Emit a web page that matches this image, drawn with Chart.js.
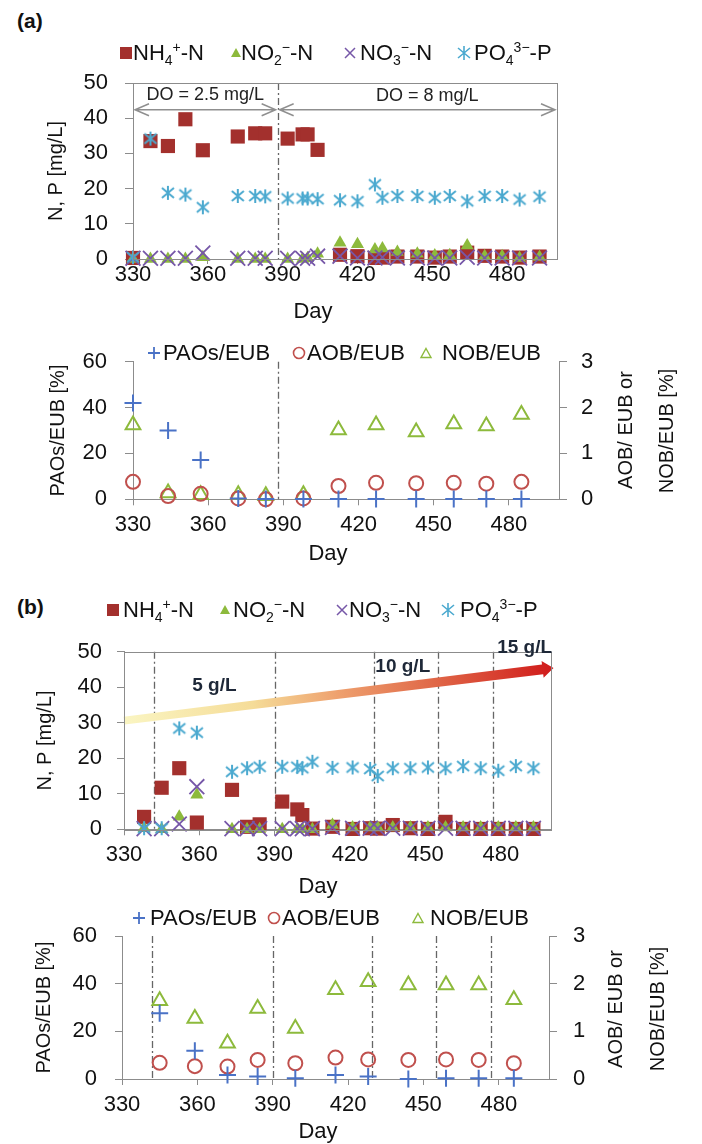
<!DOCTYPE html>
<html>
<head>
<meta charset="utf-8">
<script src="https://cdn.jsdelivr.net/npm/chart.js@4.4.1/dist/chart.umd.min.js"></script>
<style>
  body { margin: 0; background: #fff; font-family: "Liberation Sans", Arial, sans-serif; }
  #page { position: relative; width: 702px; height: 1144px; overflow: hidden; }
  canvas { position: absolute; left: 0; }
  .tag { position: absolute; left: 17px; font-weight: bold; font-size: 21px; line-height: 21px; color: #111; }
  .lg { position: absolute; font-size: 22px; line-height: 22px; color: #111; white-space: nowrap; }
  .lg sub, .lg sup { font-size: 14px; line-height: 0; }
  .mk { position: absolute; }
</style>
</head>
<body>
<div id="page">
  <div class="tag" style="top:10px">(a)</div>
  <div class="tag" style="top:596px">(b)</div>
  <canvas id="a1" width="702" height="275" style="top:55px"></canvas>
  <canvas id="a2" width="702" height="236" style="top:330px"></canvas>
  <canvas id="b1" width="702" height="280" style="top:620px"></canvas>
  <canvas id="b2" width="702" height="244" style="top:900px"></canvas>
</div>
<script>
// ---- (a) DO phases: ions in the effluent ----
const aDays = [330, 337, 344, 351, 358, 372, 379, 383, 392, 398, 400, 404, 413, 420, 427, 430, 436, 444, 451, 457, 464, 471, 478, 485, 493];
const aNH4 = [0.3, 33.5, 32.1, 39.7, 30.9, 34.8, 35.7, 35.7, 34.2, 35.4, 35.4, 31.0, 1.2, 0.8, 0.3, 0.4, 0.7, 0.7, 0.4, 0.7, 1.8, 0.9, 0.7, 0.4, 0.7];
const aNO2 = [0, 0, 0, 0, 0.5, 0, 0, 0, 0, 0, 0.2, 1.5, 4.6, 4.2, 2.7, 3.0, 2.0, 1.5, 1.0, 1.1, 3.8, 0.8, 0.8, 0.3, 0.6];
const aNO3 = [0.2, 0.2, 0.2, 0.2, 1.7, 0.2, 0.2, 0.2, 0.2, 0.2, 0.2, 0.8, 0.8, 0.3, 0.3, 0.5, 0.3, 0.3, 0.3, 0.3, 0.5, 0.3, 0.3, 0.3, 0.3];
const aPO4 = [0.5, 34.2, 18.8, 18.3, 14.7, 17.9, 17.9, 17.8, 17.2, 17.2, 17.2, 17.0, 16.7, 16.4, 21.2, 17.4, 17.9, 17.9, 17.4, 17.9, 16.4, 17.9, 17.9, 16.9, 17.7];

// ---- (a) FISH ratios ----
const aFishDays = [330, 344, 357, 372, 383, 398, 412, 427, 443, 458, 471, 485];
const aPAO = [42, 30, 17.1, 0.4, 0.1, 0.1, 0.1, 0.1, 0.1, 0.1, 0.1, 0.1];
const aAOB = [0.38, 0.07, 0.12, 0.02, 0.0, 0.02, 0.29, 0.36, 0.35, 0.36, 0.34, 0.38];
const aNOB = [1.62, 0.14, 0.10, 0.10, 0.08, 0.10, 1.51, 1.62, 1.47, 1.64, 1.60, 1.85];

// ---- (b) salt steps: ions ----
const bDays = [338, 345, 352, 359, 373, 379, 384, 393, 399, 401, 405, 413, 421, 428, 431, 437, 444, 451, 458, 465, 472, 479, 486, 493];
const bNH4 = [3.5, 11.7, 17.2, 1.9, 11.1, 0.7, 1.4, 7.8, 5.6, 4.0, 0.2, 0.7, 0.1, 0.3, 0.2, 1.2, 0.3, 0.1, 2.1, 0.1, 0.1, 0.1, 0.1, 0.1];
const bNO2 = [0.3, 0, 3.5, 9.7, 0, 0, 0, 0, 0, 0, 0, 1.2, 0.5, 0.5, 0.5, 0.5, 0.5, 0.5, 0.5, 0.5, 0.5, 0.5, 0.5, 0.5];
const bNO3 = [0.2, 0.2, 1.5, 12.0, 0.2, 0.2, 0.2, 0.2, 0.2, 0.2, 0.2, 0.5, 0.3, 0.3, 0.3, 0.3, 0.3, 0.3, 0.3, 0.3, 0.3, 0.3, 0.3, 0.3];
const bPO4 = [0.3, 0.3, 28.4, 27.2, 16.2, 17.2, 17.6, 17.6, 17.6, 17.2, 19.0, 17.3, 17.4, 17.0, 15.0, 17.2, 17.2, 17.4, 17.2, 17.8, 17.2, 16.5, 17.8, 17.2];

// ---- (b) FISH ratios ----
const bFishDays = [345, 359, 372, 384, 399, 415, 428, 444, 459, 472, 486];
const bPAO = [27.6, 11.9, 1.7, 1.0, 0.3, 1.7, 1.0, 0.0, 0.3, 0.3, 0.3];
const bAOB = [0.34, 0.27, 0.26, 0.40, 0.33, 0.45, 0.41, 0.40, 0.41, 0.40, 0.33];
const bNOB = [1.64, 1.27, 0.75, 1.48, 1.06, 1.87, 2.04, 1.97, 1.97, 1.97, 1.66];

// phase boundaries and annotations (data units)
const aPhaseLines = [388];
const bPhaseLines = [342, 390, 429.5, 455, 477];
const doLabels = ['DO = 2.5 mg/L', 'DO = 8 mg/L'];
const doRanges = [[330, 388], [388, 500]];
const doLevel = 42.4;
const doLabelAt = [[359, 46.5], [448, 46.3]];
const saltLabels = ['5 g/L', '10 g/L', '15 g/L'];
const saltLabelAt = [[366, 40.5], [441, 45.7], [489.5, 51]];
const saltArrow = [[330, 30.6], [501, 45.4]];

const ionNames = ['NH<sub>4</sub><sup>+</sup>-N', 'NO<sub>2</sub><sup>−</sup>-N', 'NO<sub>3</sub><sup>−</sup>-N', 'PO<sub>4</sub><sup>3−</sup>-P'];
const fishNames = ['PAOs/EUB', 'AOB/EUB', 'NOB/EUB'];

const RED = '#A3302D', GREEN = '#8DBA3C', PURPLE = '#7657A8', AQUA = '#4BA9CF';
const BLUE = '#4A72C6', ROSE = '#C0504D';
const AXIS = '#8c8c8c';

Chart.defaults.font.family = '"Liberation Sans", Arial, sans-serif';
Chart.defaults.color = '#111';

// six-spoke asterisk like the spreadsheet "star" marker
function starMarker(color) {
  const c = document.createElement('canvas');
  c.width = c.height = 16;
  const g = c.getContext('2d');
  g.strokeStyle = color; g.lineWidth = 2;
  g.beginPath();
  g.moveTo(8, 1); g.lineTo(8, 15);
  g.moveTo(2, 3); g.lineTo(14, 13);
  g.moveTo(14, 3); g.lineTo(2, 13);
  g.stroke();
  return c;
}
const STAR = starMarker(AQUA);

const pts = (days, v) => days.map((d, i) => ({x: d, y: v[i]}));

function ionSets(days, nh4, no2, no3, po4) {
  return [
    {label: 'NH₄⁺-N', data: pts(days, nh4), pointStyle: 'rect', pointRadius: 10, backgroundColor: RED, borderColor: RED, borderWidth: 0, order: 4, clip: false},
    {label: 'NO₂⁻-N', data: pts(days, no2), pointStyle: 'triangle', pointRadius: 7.5, backgroundColor: GREEN, borderColor: GREEN, borderWidth: 0, order: 3, clip: false},
    {label: 'NO₃⁻-N', data: pts(days, no3), pointStyle: 'crossRot', pointRadius: 10.5, borderColor: PURPLE, borderWidth: 1.8, order: 2, clip: false},
    {label: 'PO₄³⁻-P', data: pts(days, po4), pointStyle: STAR, pointRadius: 8, order: 1, clip: false}
  ];
}

function fishSets(days, pao, aob, nob) {
  return [
    {label: 'PAOs/EUB', data: pts(days, pao), yAxisID: 'y', pointStyle: 'cross', pointRadius: 8.5, borderColor: BLUE, borderWidth: 2, clip: false},
    {label: 'AOB/EUB', data: pts(days, aob), yAxisID: 'y2', pointStyle: 'circle', pointRadius: 7, backgroundColor: 'rgba(0,0,0,0)', borderColor: ROSE, borderWidth: 2, clip: false},
    {label: 'NOB/EUB', data: pts(days, nob), yAxisID: 'y2', pointStyle: 'triangle', pointRadius: 8.5, backgroundColor: 'rgba(0,0,0,0)', borderColor: GREEN, borderWidth: 2, clip: false}
  ];
}

function xAxis(o) {
  return {
    type: 'linear', position: 'bottom', min: 330, max: 500,
    ticks: {stepSize: 30, includeBounds: false, autoSkip: false, maxRotation: 0, padding: o.pad, font: {size: 22, lineHeight: 1}},
    grid: {drawOnChartArea: false, tickLength: o.tl, color: AXIS},
    border: {color: AXIS, width: 1},
    afterFit: s => { s.height = o.h; }
  };
}

function yAxis(o) {
  return {
    type: 'linear', position: o.pos, min: 0, max: o.max,
    ticks: {stepSize: o.step, padding: o.pad, font: {size: 22, lineHeight: 1}},
    grid: {drawOnChartArea: false, tickLength: o.tl, color: AXIS},
    border: {color: AXIS, width: 1},
    title: o.title ? {display: true, text: o.title, font: {size: 20, lineHeight: 1}, padding: {top: o.tpad, bottom: 0}} : {display: false},
    afterFit: s => { s.width = o.w; }
  };
}

// dash-dot phase lines, DO arrows, salt arrow, free texts
const extras = {
  id: 'extras',
  beforeDatasetsDraw(chart, args, o) {
    const {ctx, chartArea: a} = chart;
    const x = chart.scales.x, y = chart.scales.y;
    ctx.save();
    ctx.strokeStyle = '#666'; ctx.lineWidth = 1.3; ctx.setLineDash([7, 3, 2, 3]);
    (o.vlines || []).forEach(d => {
      const px = Math.round(x.getPixelForValue(d)) + 0.5;
      ctx.beginPath(); ctx.moveTo(px, a.top); ctx.lineTo(px, a.bottom); ctx.stroke();
    });
    ctx.setLineDash([]);
    if (o.spans) {
      ctx.strokeStyle = '#8f8f8f'; ctx.lineWidth = 1.5;
      const py = y.getPixelForValue(o.spans.level);
      o.spans.ranges.forEach(([d0, d1]) => {
        const p0 = x.getPixelForValue(d0) + 2, p1 = x.getPixelForValue(d1) - 2;
        ctx.beginPath();
        ctx.moveTo(p0, py); ctx.lineTo(p1, py);
        ctx.moveTo(p0 + 14, py - 6); ctx.lineTo(p0, py); ctx.lineTo(p0 + 14, py + 6);
        ctx.moveTo(p1 - 14, py - 6); ctx.lineTo(p1, py); ctx.lineTo(p1 - 14, py + 6);
        ctx.stroke();
      });
    }
    if (o.arrow) {
      const [s, e] = o.arrow;
      const x0 = x.getPixelForValue(s[0]), y0 = y.getPixelForValue(s[1]);
      const x1 = x.getPixelForValue(e[0]), y1 = y.getPixelForValue(e[1]);
      const len = Math.hypot(x1 - x0, y1 - y0), ux = (x1 - x0) / len, uy = (y1 - y0) / len;
      const nx = -uy, ny = ux;
      const hl = 11, hw = 8.5, w0 = 4, w1 = 5;
      const bx = x1 - ux * hl, by = y1 - uy * hl;
      const g = ctx.createLinearGradient(x0, y0, x1, y1);
      g.addColorStop(0, '#FAF5C2');
      g.addColorStop(0.3, '#F5DC98');
      g.addColorStop(0.5, '#EEA06E');
      g.addColorStop(0.72, '#E06848');
      g.addColorStop(1, '#D01A1A');
      ctx.fillStyle = g;
      ctx.beginPath();
      ctx.moveTo(x0 + nx * w0, y0 + ny * w0);
      ctx.lineTo(bx + nx * w1, by + ny * w1);
      ctx.lineTo(bx + nx * hw, by + ny * hw);
      ctx.lineTo(x1, y1);
      ctx.lineTo(bx - nx * hw, by - ny * hw);
      ctx.lineTo(bx - nx * w1, by - ny * w1);
      ctx.lineTo(x0 - nx * w0, y0 - ny * w0);
      ctx.closePath();
      ctx.fill();
    }
    ctx.restore();
  },
  afterDraw(chart, args, o) {
    const {ctx, chartArea: a} = chart;
    ctx.save();
    if (o.box) {
      ctx.strokeStyle = AXIS; ctx.lineWidth = 1;
      ctx.strokeRect(Math.round(a.left) + 0.5, Math.round(a.top) + 0.5, Math.round(a.width), Math.round(a.height));
    }
    ctx.textAlign = 'center'; ctx.textBaseline = 'middle';
    (o.labels || []).forEach(t => {
      ctx.font = t.font; ctx.fillStyle = t.color || '#111';
      ctx.fillText(t.text, chart.scales.x.getPixelForValue(t.at[0]), chart.scales.y.getPixelForValue(t.at[1]));
    });
    (o.texts || []).forEach(t => {
      ctx.save();
      ctx.translate(t.x, t.y); ctx.rotate(t.rot || 0);
      ctx.font = t.font; ctx.fillStyle = '#111';
      ctx.fillText(t.text, 0, 0);
      ctx.restore();
    });
    ctx.restore();
  }
};
Chart.register(extras);

const F22 = '22px "Liberation Sans", Arial, sans-serif';
const F20 = '20px "Liberation Sans", Arial, sans-serif';
const F18 = '18px "Liberation Sans", Arial, sans-serif';
const F19B = 'bold 19px "Liberation Sans", Arial, sans-serif';

function base(padTop, padRight) {
  return {
    responsive: false, animation: false, events: [], devicePixelRatio: 1,
    layout: {padding: {top: padTop, right: padRight, left: 0, bottom: 0}}
  };
}

new Chart(document.getElementById('a1'), {
  type: 'scatter',
  data: {datasets: ionSets(aDays, aNH4, aNO2, aNO3, aPO4)},
  options: Object.assign(base(28, 145), {
    scales: {
      x: xAxis({h: 71, tl: 5, pad: 0}),
      y: yAxis({pos: 'left', max: 50, step: 10, w: 133, tl: 8, pad: 17, title: 'N, P [mg/L]', tpad: 46.7})
    },
    plugins: {
      legend: {display: false}, tooltip: {enabled: false},
      extras: {
        box: true, vlines: aPhaseLines,
        spans: {ranges: doRanges, level: doLevel},
        labels: doLabels.map((t, i) => ({text: t, at: doLabelAt[i], font: F18, color: '#222'})),
        texts: [{text: 'Day', x: 313, y: 256.7, font: F22}]
      }
    }
  })
});

new Chart(document.getElementById('a2'), {
  type: 'scatter',
  data: {datasets: fishSets(aFishDays, aPAO, aAOB, aNOB)},
  options: Object.assign(base(31.7, 63), {
    scales: {
      x: xAxis({h: 66.7, tl: 6, pad: 8.7}),
      y: yAxis({pos: 'left', max: 60, step: 20, w: 133, tl: 8, pad: 18, title: 'PAOs/EUB [%]', tpad: 48}),
      y2: yAxis({pos: 'right', max: 3, step: 1, w: 80, tl: 8, pad: 14})
    },
    plugins: {
      legend: {display: false}, tooltip: {enabled: false},
      extras: {
        vlines: aPhaseLines,
        texts: [
          {text: 'Day', x: 328, y: 224, font: F22},
          {text: 'AOB/ EUB or', x: 626.7, y: 100, rot: -Math.PI / 2, font: F20},
          {text: 'NOB/EUB [%]', x: 667, y: 101, rot: -Math.PI / 2, font: F20}
        ]
      }
    }
  })
});

new Chart(document.getElementById('b1'), {
  type: 'scatter',
  data: {datasets: ionSets(bDays, bNH4, bNO2, bNO3, bPO4)},
  options: Object.assign(base(31.7, 151), {
    scales: {
      x: xAxis({h: 70.7, tl: 6, pad: 8.7}),
      y: yAxis({pos: 'left', max: 50, step: 10, w: 124, tl: 7, pad: 15, title: 'N, P [mg/L]', tpad: 35})
    },
    plugins: {
      legend: {display: false}, tooltip: {enabled: false},
      extras: {
        box: true, vlines: bPhaseLines, arrow: saltArrow,
        labels: saltLabels.map((t, i) => ({text: t, at: saltLabelAt[i], font: F19B, color: '#1E2838'})),
        texts: [{text: 'Day', x: 318, y: 267, font: F22}]
      }
    }
  })
});

new Chart(document.getElementById('b2'), {
  type: 'scatter',
  data: {datasets: fishSets(bFishDays, bPAO, bAOB, bNOB)},
  options: Object.assign(base(36, 73), {
    scales: {
      x: xAxis({h: 65, tl: 6, pad: 9}),
      y: yAxis({pos: 'left', max: 60, step: 20, w: 122, tl: 7, pad: 18, title: 'PAOs/EUB [%]', tpad: 34}),
      y2: yAxis({pos: 'right', max: 3, step: 1, w: 80, tl: 8, pad: 16})
    },
    plugins: {
      legend: {display: false}, tooltip: {enabled: false},
      extras: {
        vlines: bPhaseLines,
        texts: [
          {text: 'Day', x: 318, y: 232, font: F22},
          {text: 'AOB/ EUB or', x: 616.7, y: 109, rot: -Math.PI / 2, font: F20},
          {text: 'NOB/EUB [%]', x: 658, y: 109, rot: -Math.PI / 2, font: F20}
        ]
      }
    }
  })
});

// ---- HTML legends with proper sub/superscripts ----
function markerSvg(kind, color) {
  let body = '';
  if (kind === 'rect') body = `<rect x="2" y="2" width="12" height="12" fill="${color}"/>`;
  if (kind === 'tri') body = `<polygon points="8,3 13,12 3,12" fill="${color}"/>`;
  if (kind === 'x') body = `<path d="M3,3 L13,13 M13,3 L3,13" stroke="${color}" stroke-width="1.5"/>`;
  if (kind === 'star') body = `<path d="M8,1 L8,15 M2,3 L14,13 M14,3 L2,13" stroke="${color}" stroke-width="1.6"/>`;
  if (kind === 'plus') body = `<path d="M2,8 L14,8 M8,2 L8,14" stroke="${color}" stroke-width="1.8"/>`;
  if (kind === 'circ') body = `<circle cx="8" cy="8" r="5.5" fill="none" stroke="${color}" stroke-width="1.6"/>`;
  if (kind === 'otri') body = `<polygon points="8,3.5 13,12.5 3,12.5" fill="none" stroke="${color}" stroke-width="1.4"/>`;
  return `<svg width="16" height="16" viewBox="0 0 16 16">${body}</svg>`;
}

function legend(cy, names, kinds, colors, marks, texts) {
  const page = document.getElementById('page');
  names.forEach((n, i) => {
    const m = document.createElement('div');
    m.className = 'mk';
    m.style.left = (marks[i] - 8) + 'px';
    m.style.top = (cy - 8) + 'px';
    m.style.height = '16px';
    m.innerHTML = markerSvg(kinds[i], colors[i]);
    page.appendChild(m);
    const t = document.createElement('div');
    t.className = 'lg';
    t.style.left = texts[i] + 'px';
    t.style.top = (cy - 11) + 'px';
    t.innerHTML = n;
    page.appendChild(t);
  });
}

const ionKinds = ['rect', 'tri', 'x', 'star'];
const ionColors = [RED, GREEN, PURPLE, AQUA];
const fishKinds = ['plus', 'circ', 'otri'];
const fishColors = [BLUE, ROSE, GREEN];

legend(53, ionNames, ionKinds, ionColors, [126, 236, 350, 464], [133, 241, 360, 474]);
legend(353, fishNames, fishKinds, fishColors, [154, 299, 426], [163, 307, 442]);
legend(610, ionNames, ionKinds, ionColors, [112.5, 225, 341.5, 447.5], [123, 233, 349, 460]);
legend(918, fishNames, fishKinds, fishColors, [139, 273.5, 417.5], [150, 282, 430]);
</script>
</body>
</html>
